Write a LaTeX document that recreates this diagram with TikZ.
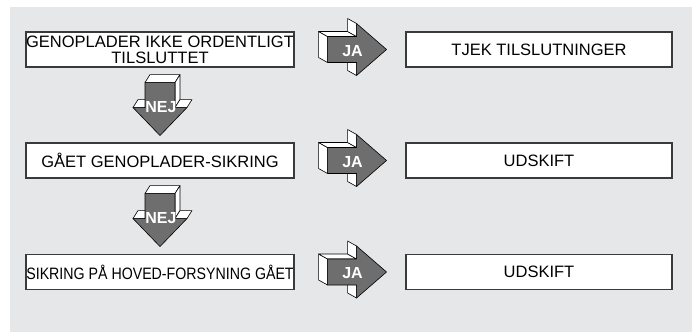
\documentclass[tikz,border=0pt]{standalone}
\usepackage{fontspec}
\setmainfont{Liberation Sans}
\usepackage{graphicx}
\usetikzlibrary{positioning,calc}
\definecolor{Panel}{HTML}{E6E7E9}
\definecolor{Frame}{HTML}{3A3A3A}
\definecolor{Shade}{HTML}{6E6E6E}

% 3D block arrow pointing right, tail centre at #1
\newcommand{\jaarrow}[1]{%
  \begin{scope}[shift={(#1)}]
    \draw[side] (0,13)--(0,-13)--(-9,-18)--(-9,8)--cycle;
    \draw[side] (0,-13)--(29,-13)--(20,-18)--(-9,-18)--cycle;
    \draw[side] (29,-13)--(29,-26)--(20,-31)--(20,-18)--cycle;
    \draw[side] (29,26)--(29,13)--(20,8)--(20,21)--cycle;
    \draw[front] (0,-13)--(29,-13)--(29,-26)--(59,0)--(29,26)--(29,13)--(0,13)--cycle;
  \end{scope}}
% 3D block arrow pointing down, tail centre at #1
\newcommand{\nejarrow}[1]{%
  \begin{scope}[shift={(#1)}]
    \draw[side] (15,0)--(-15,0)--(-10,-8)--(20,-8)--cycle;
    \draw[side] (15,25)--(15,0)--(20,-8)--(20,17)--cycle;
    \draw[side] (-15,25)--(-27,25)--(-22,17)--(-10,17)--cycle;
    \draw[side] (27,25)--(15,25)--(20,17)--(32,17)--cycle;
    \draw[front] (-15,0)--(-15,25)--(-27,25)--(0,53)--(27,25)--(15,25)--(15,0)--cycle;
  \end{scope}}

\begin{document}
\begin{tikzpicture}[x=1pt,y=-1pt,
  lbox/.style={draw=Frame,fill=white,line width=1.1pt,minimum width=268pt,
    minimum height=35pt,align=center,inner sep=0pt,
    font=\fontsize{16.5}{16}\selectfont},
  rbox/.style={lbox,minimum width=266pt},
  side/.style={draw=black,fill=white,line width=0.6pt,line join=round},
  front/.style={draw=black,fill=Shade,line width=0.6pt,line join=round},
  tag/.style={text=white,inner sep=0pt,font=\fontsize{16}{16}\selectfont\bfseries}]
  \useasboundingbox (0,0) rectangle (697,332);
  \fill[Panel] (10,7) rectangle (692,332);

  % questions
  \node[lbox] (q1) at (160,49.5) {GENOPLADER IKKE ORDENTLIGT\\TILSLUTTET};
  \node[lbox] (q2) at (160,160.5) {GÅET GENOPLADER-SIKRING};
  \node[lbox] (q3) at (160,272) {\scalebox{0.86}[1]{SIKRING PÅ HOVED-FORSYNING GÅET}};

  % answers
  \node[rbox] (a1) at (539,49.5) {TJEK TILSLUTNINGER};
  \node[rbox] (a2) at (539,160.5) {UDSKIFT};
  \node[rbox] (a3) at (539,272) {UDSKIFT};

  % JA arrows
  \foreach \i in {1,2,3} {
    \coordinate (t\i) at ($(q\i.east)+(33,0)$);
    \jaarrow{t\i}
    \node[tag] (ja\i) at ($(t\i)+(25,1.5)$) {JA};
  }

  % NEJ arrows
  \foreach \i in {1,2} {
    \coordinate (n\i) at ($(q\i.south)+(0,15)$);
    \nejarrow{n\i}
    \node[tag] (nej\i) at ($(n\i)+(1,25)$) {NEJ};
  }
\end{tikzpicture}
\end{document}
